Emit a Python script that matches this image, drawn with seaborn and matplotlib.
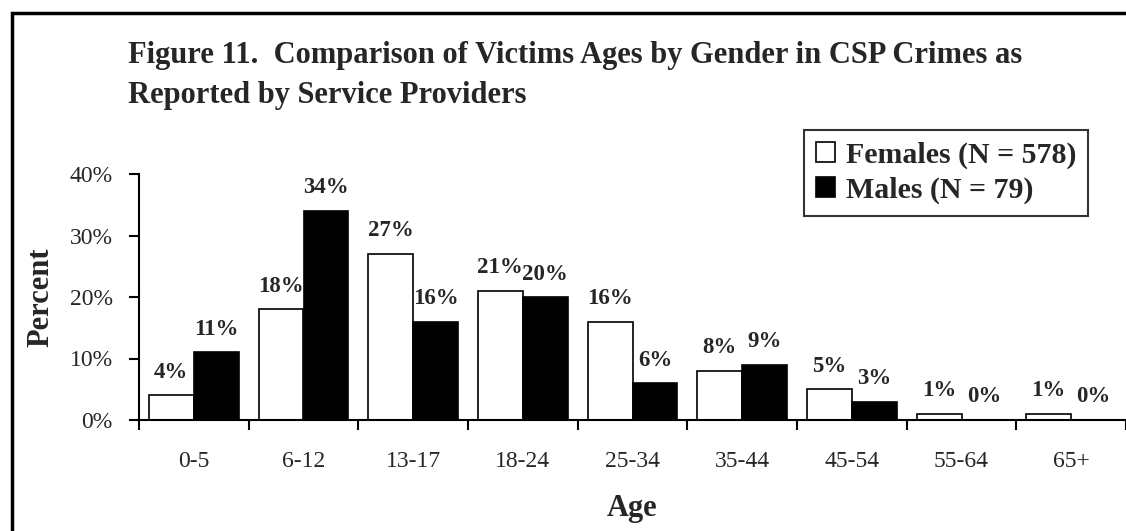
import pandas as pd
import matplotlib.pyplot as plt
from matplotlib.patches import Rectangle
from matplotlib.ticker import FixedLocator, PercentFormatter
import seaborn as sns

age_groups = ['0-5', '6-12', '13-17', '18-24', '25-34', '35-44', '45-54', '55-64', '65+']
females = [4, 18, 27, 21, 16, 8, 5, 1, 1]
males = [11, 34, 16, 20, 6, 9, 3, 0, 0]
series_names = ['Females (N = 578)', 'Males (N = 79)']
y_ticks = [0, 10, 20, 30, 40]


def build_frame():
    """Long-form table for seaborn."""
    rows = []
    for i, age in enumerate(age_groups):
        rows.append({'Age': age, 'Gender': series_names[0], 'Percent': females[i]})
        rows.append({'Age': age, 'Gender': series_names[1], 'Percent': males[i]})
    return pd.DataFrame(rows)


def main():
    sns.set_style('white')
    plt.rcParams['font.family'] = ['Liberation Serif', 'DejaVu Serif']

    fig = plt.figure(figsize=(11.26, 5.31), dpi=100)
    ax = fig.add_axes([139 / 1126, 111 / 531, 987 / 1126, 246 / 531])

    df = build_frame()
    sns.barplot(data=df, x='Age', y='Percent', hue='Gender', order=age_groups,
                hue_order=series_names,
                palette={series_names[0]: 'white', series_names[1]: 'black'},
                edgecolor='black', linewidth=1.2, width=0.82, ax=ax,
                legend=False)

    # value labels above each bar
    for container, vals in zip(ax.containers, [females, males]):
        ax.bar_label(container, labels=[f'{v}%' for v in vals], padding=9,
                     fontsize=16.5, fontweight='bold')

    ax.set_ylim(0, 40)
    ax.set_xlim(-0.5, len(age_groups) - 0.5)
    ax.yaxis.set_major_locator(FixedLocator(y_ticks))
    ax.yaxis.set_major_formatter(PercentFormatter(decimals=0))

    # ticks on group boundaries, labels at group centres
    ax.set_xticks([i - 0.5 for i in range(len(age_groups) + 1)])
    ax.set_xticklabels([])
    ax.set_xticks(range(len(age_groups)), minor=True)
    ax.set_xticklabels(age_groups, minor=True)
    ax.tick_params(axis='x', which='major', direction='out', length=7, width=1.5,
                   color='black', bottom=True)
    ax.tick_params(axis='x', which='minor', length=0, pad=22, labelsize=17)
    ax.tick_params(axis='y', direction='out', length=7, width=1.5, color='black',
                   left=True, pad=12, labelsize=17)

    for side in ['top', 'right']:
        ax.spines[side].set_visible(False)
    for side in ['left', 'bottom']:
        ax.spines[side].set_color('black')
        ax.spines[side].set_linewidth(1.5)

    ax.set_xlabel('Age', fontsize=22, fontweight='bold', labelpad=16)
    ax.set_ylabel('Percent', fontsize=22, fontweight='bold', labelpad=10)

    # legend
    handles = [Rectangle((0, 0), 1, 1, facecolor='white', edgecolor='black', lw=1.2),
               Rectangle((0, 0), 1, 1, facecolor='black', edgecolor='black', lw=1.2)]
    leg = fig.legend(handles, series_names, loc='upper right',
                     bbox_to_anchor=(1088 / 1126, 1 - 130 / 531),
                     prop={'family': 'Liberation Serif', 'weight': 'bold', 'size': 21.5},
                     frameon=True, fancybox=False, edgecolor='black',
                     handlelength=0.65, handleheight=0.65, handletextpad=0.35,
                     borderpad=0.4, labelspacing=0.25, borderaxespad=0)
    leg.get_frame().set_linewidth(1.5)

    # title
    fig.text(128 / 1126, 1 - 41 / 531,
             'Figure 11.  Comparison of Victims Ages by Gender in CSP Crimes as\n'
             'Reported by Service Providers',
             fontsize=22, fontweight='bold', ha='left', va='top', linespacing=1.5)

    # outer frame (left and top visible)
    fig.patches.append(Rectangle((11.5 / 1126, -0.2), 1.5, 1.2 - 12.5 / 531,
                                 transform=fig.transFigure, fill=False,
                                 edgecolor='black', linewidth=2.5))

    fig.savefig('out.png', dpi=100)


if __name__ == "__main__":
    main()
